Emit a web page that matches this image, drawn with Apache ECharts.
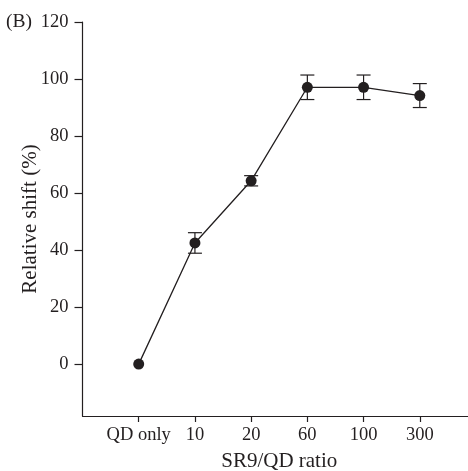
<!DOCTYPE html>
<html>
<head>
<meta charset="utf-8">
<script src="https://cdn.jsdelivr.net/npm/echarts@6/dist/echarts.min.js"></script>
<style>
  html, body { margin: 0; padding: 0; background: #fff; }
  #chart { width: 468px; height: 471px; }
</style>
</head>
<body>
<div id="chart"></div>
<script>
// SR9/QD ratios (padded with blank slots at both ends of the axis)
const ratios = ['QD only', '10', '20', '60', '100', '300'];
// Relative shift (%) and its error (±)
const shiftValues = [0, 42.5, 64.3, 97.1, 97.1, 94.2];
const shiftErrors = [0, 3.6, 1.8, 4.3, 4.3, 4.2];
const yTicks = [0, 20, 40, 60, 80, 100, 120];

const axisCats = [''].concat(ratios, ['']);
const ink = '#231f20';
const serif = '"Liberation Serif", "DejaVu Serif", serif';

const pointData = ratios.map((r, i) => [r, shiftValues[i]]);
const errData = ratios
  .map((r, i) => [r, shiftValues[i] - shiftErrors[i], shiftValues[i] + shiftErrors[i]])
  .filter((d, i) => shiftErrors[i] > 0);

const chart = echarts.init(document.getElementById('chart'), null, { renderer: 'canvas' });

chart.setOption({
  backgroundColor: '#fff',
  animation: false,
  grid: { left: 82.5, width: 393.5, top: 22, height: 394, containLabel: false, outerBoundsMode: 'none' },
  xAxis: {
    type: 'category',
    data: axisCats,
    boundaryGap: false,
    name: 'SR9/QD ratio',
    nameLocation: 'middle',
    nameGap: 35,
    nameMoveOverlap: false,
    nameTextStyle: { fontFamily: serif, fontSize: 21, color: ink },
    axisLine: { onZero: false, lineStyle: { color: ink, width: 1.2 } },
    axisTick: {
      show: true, inside: false, length: 6,
      lineStyle: { color: ink, width: 1.2 },
      interval: (idx) => idx > 0 && idx < axisCats.length - 1
    },
    axisLabel: {
      fontFamily: serif, fontSize: 18.5, color: ink, margin: 9.5,
      interval: (idx) => idx > 0 && idx < axisCats.length - 1
    },
    splitLine: { show: false }
  },
  yAxis: {
    type: 'value',
    min: -18.2,
    max: 120,
    name: 'Relative shift (%)',
    nameLocation: 'middle',
    nameGap: 42,
    nameMoveOverlap: false,
    nameTextStyle: { fontFamily: serif, fontSize: 21, color: ink },
    axisLine: { show: true, lineStyle: { color: ink, width: 1.2 } },
    axisTick: { show: true, length: 8, lineStyle: { color: ink, width: 1.2 }, customValues: yTicks },
    axisLabel: { fontFamily: serif, fontSize: 18.5, color: ink, margin: 14, customValues: yTicks },
    splitLine: { show: false }
  },
  graphic: [{
    type: 'text',
    left: 6,
    top: 12,
    style: { text: '(B)', font: '19.5px ' + serif, fill: ink }
  }],
  series: [
    {
      type: 'custom',
      name: 'error',
      data: errData,
      z: 3,
      renderItem: function (params, api) {
        const x = api.value(0);
        const lo = api.coord([x, api.value(1)]);
        const hi = api.coord([x, api.value(2)]);
        const half = 7;
        const st = { stroke: ink, lineWidth: 1.2 };
        return {
          type: 'group',
          children: [
            { type: 'line', shape: { x1: lo[0], y1: lo[1], x2: hi[0], y2: hi[1] }, style: st },
            { type: 'line', shape: { x1: lo[0] - half, y1: lo[1], x2: lo[0] + half, y2: lo[1] }, style: st },
            { type: 'line', shape: { x1: hi[0] - half, y1: hi[1], x2: hi[0] + half, y2: hi[1] }, style: st }
          ]
        };
      }
    },
    {
      type: 'line',
      name: 'shift',
      data: pointData,
      z: 4,
      symbol: 'circle',
      symbolSize: 11,
      showSymbol: true,
      lineStyle: { color: ink, width: 1.3 },
      itemStyle: { color: ink, borderWidth: 0 }
    }
  ]
});
</script>
</body>
</html>
